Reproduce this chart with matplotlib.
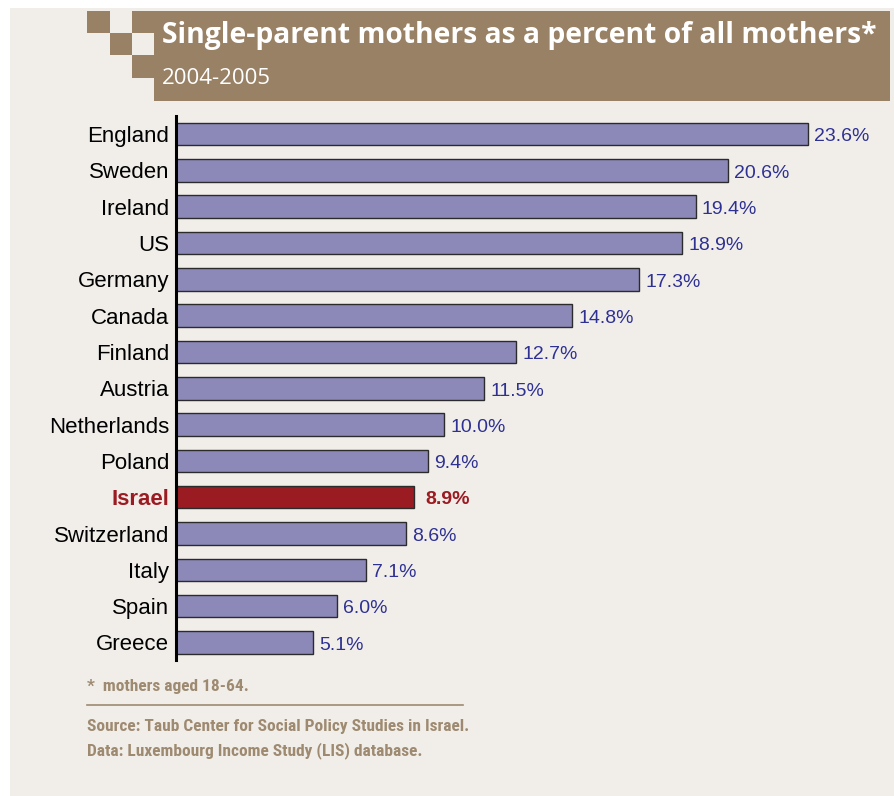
import matplotlib.pyplot as plt
from matplotlib import font_manager
from matplotlib.patches import Rectangle

countries = ['England', 'Sweden', 'Ireland', 'US', 'Germany', 'Canada', 'Finland',
             'Austria', 'Netherlands', 'Poland', 'Israel', 'Switzerland', 'Italy',
             'Spain', 'Greece']
values = [23.6, 20.6, 19.4, 18.9, 17.3, 14.8, 12.7, 11.5, 10.0, 9.4, 8.9, 8.6, 7.1, 6.0, 5.1]
highlight = 'Israel'

title = 'Single-parent mothers as a percent of all mothers*'
subtitle = '2004-2005'
footnote = '*  mothers aged 18-64.'
source_lines = ['Source: Taub Center for Social Policy Studies in Israel.',
                'Data: Luxembourg Income Study (LIS) database.']

W, H = 895, 796
BG = '#f1eeea'
BROWN = '#998165'
NOTE = '#9e8a70'
BAR = '#8c89b8'
RED = '#9b1b22'
BLUE = '#2e3192'

# narrow face for the notes, whichever is installed
installed = {f.name for f in font_manager.fontManager.ttflist}
narrow = next((n for n in ['Roboto Condensed', 'Liberation Sans Narrow',
                           'Open Sans Condensed', 'Noto Sans Condensed']
               if n in installed), 'DejaVu Sans')

fig = plt.figure(figsize=(W / 100, H / 100), dpi=100)
fig.patch.set_facecolor('white')


def px_rect(x0, y0, x1, y1, color):
    # rectangle in pixel coords, y measured from the top
    fig.add_artist(Rectangle((x0 / W, 1 - y1 / H), (x1 - x0) / W, (y1 - y0) / H,
                             transform=fig.transFigure, facecolor=color,
                             edgecolor='none', zorder=0))


# panel and header block
px_rect(10, 8, W, H, BG)
px_rect(154, 11, 890, 101, BROWN)
px_rect(132, 11, 890, 33, BROWN)
px_rect(87, 11, 110, 33, BROWN)
px_rect(110, 33, 132, 55, BROWN)
px_rect(132, 55, 154, 78, BROWN)

hfont = ['Open Sans', 'DejaVu Sans']
fig.text(162 / W, 1 - 36 / H, title, color='white', fontsize=20.3, fontweight='bold',
         family=hfont, va='center', ha='left')
fig.text(162 / W, 1 - 79 / H, subtitle, color='white', fontsize=16,
         family=hfont, va='center', ha='left')

# bar chart
ax_x0, ax_x1 = 176, 890
ax_y0, ax_y1 = 116, 660
ax = fig.add_axes([ax_x0 / W, 1 - ax_y1 / H, (ax_x1 - ax_x0) / W, (ax_y1 - ax_y0) / H])
ax.set_facecolor('none')
ppu = (808 - 176) / 23.6
ax.set_xlim(0, (ax_x1 - ax_x0) / ppu)
pitch = (642.5 - 134) / 14
ax.set_ylim((ax_y1 - 134) / pitch, (ax_y0 - 134) / pitch)

ypos = list(range(len(countries)))
colors = [RED if c == highlight else BAR for c in countries]
ax.barh(ypos, values, height=0.62, color=colors, edgecolor='#2b2b2b', linewidth=1.0)

for y, v, c in zip(ypos, values, countries):
    is_hl = c == highlight
    ax.annotate(f'{v:.1f}%', (v, y), xytext=(8 if is_hl else 4.5, -2),
                textcoords='offset points', va='center', ha='left',
                fontsize=14, family=['Liberation Sans', 'DejaVu Sans'],
                color=RED if is_hl else BLUE, fontweight='bold' if is_hl else 'normal')

ax.set_yticks(ypos)
ax.set_yticklabels(countries, fontsize=16, family=['Liberation Sans', 'DejaVu Sans'])
for lab in ax.get_yticklabels():
    if lab.get_text() == highlight:
        lab.set_color(RED)
        lab.set_fontweight('bold')
ax.tick_params(axis='y', length=0, pad=5)
ax.set_xticks([])
for s in ['top', 'right', 'bottom']:
    ax.spines[s].set_visible(False)
ax.spines['left'].set_linewidth(2.2)
ax.spines['left'].set_color('black')

# notes
nsize = 12.5 if narrow != 'DejaVu Sans' else 10.5
fig.text(87 / W, 1 - 687 / H, footnote, color=NOTE, fontsize=nsize, fontweight='bold',
         family=narrow, fontstretch='condensed', va='center', ha='left')
fig.add_artist(plt.Line2D([87 / W, 463 / W], [1 - 705 / H, 1 - 705 / H],
                          transform=fig.transFigure, color=NOTE, linewidth=1.2))
for i, line in enumerate(source_lines):
    fig.text(87 / W, 1 - (726 + 25 * i) / H, line, color=NOTE, fontsize=nsize,
             fontweight='bold', family=narrow, fontstretch='condensed',
             va='center', ha='left')

fig.savefig('out.png', dpi=100, facecolor=fig.get_facecolor())
